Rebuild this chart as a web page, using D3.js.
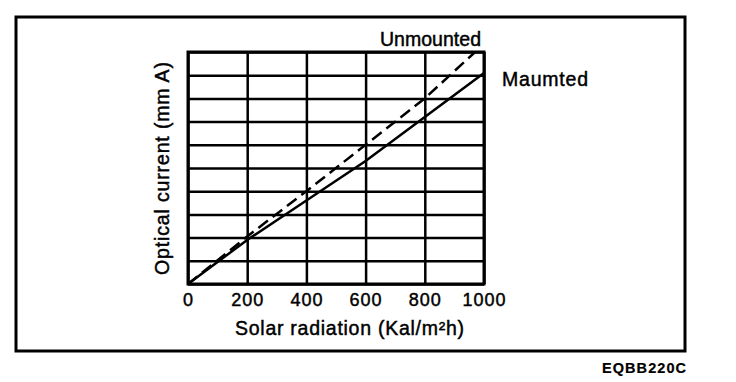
<!DOCTYPE html>
<html>
<head>
<meta charset="utf-8">
<script src="https://cdn.jsdelivr.net/npm/d3@7"></script>
<style>
  html, body { margin: 0; padding: 0; background: #fff; }
  svg { display: block; }
  text { font-family: "Liberation Sans", Arial, Helvetica, sans-serif; fill: #000; stroke: #000; stroke-width: 0.45px; }
</style>
</head>
<body>
<svg id="chart" width="736" height="382"></svg>
<script>
// ---- data ----
const xTicks = [0, 200, 400, 600, 800, 1000];
const xTickLabels = ["0", "200", "400", "600", "800", "1000"];
const yGrid = [0, 1, 2, 3, 4, 5, 6, 7, 8, 9, 10];
const unmountedX = [0, 200, 400, 600, 800, 970];
const unmountedY = [0, 2.05, 4.0, 6.0, 8.0, 10.0];
const maumtedX = [0, 200, 400, 600, 800, 1000];
const maumtedY = [0, 1.9, 3.6, 5.3, 7.2, 9.1];
const seriesNames = ["Unmounted", "Maumted"];
const xTitle = "Solar radiation (Kal/m²h)";
const yTitle = "Optical current (mm A)";
const figCode = "EQBB220C";

// ---- layout ----
const svg = d3.select("#chart");
const plot = { left: 188, top: 52, right: 484, bottom: 284 };
const W = plot.right - plot.left, H = plot.bottom - plot.top;

const x = d3.scaleLinear().domain([0, 1000]).range([plot.left, plot.right]);
const y = d3.scaleLinear().domain([0, 10]).range([plot.bottom, plot.top]);

// outer frame
svg.append("rect")
  .attr("x", 16).attr("y", 17).attr("width", 669).attr("height", 334)
  .attr("fill", "none").attr("stroke", "#000").attr("stroke-width", 3);

// vertical grid lines
const gx = svg.append("g")
  .attr("transform", `translate(0,${plot.bottom})`)
  .call(d3.axisBottom(x).tickValues(xTicks).tickSize(-H).tickFormat(""));
gx.select(".domain").remove();
gx.selectAll("line").attr("stroke", "#000").attr("stroke-width", 2.5);

// horizontal grid lines
const gy = svg.append("g")
  .attr("transform", `translate(${plot.left},0)`)
  .call(d3.axisLeft(y).tickValues(yGrid).tickSize(-W).tickFormat(""));
gy.select(".domain").remove();
gy.selectAll("line").attr("stroke", "#000").attr("stroke-width", 2.5);

// plot border
svg.append("rect")
  .attr("x", plot.left).attr("y", plot.top).attr("width", W).attr("height", H)
  .attr("fill", "none").attr("stroke", "#000").attr("stroke-width", 3);

// x tick labels
const ax = svg.append("g")
  .attr("transform", `translate(0,${plot.bottom})`)
  .call(d3.axisBottom(x).tickValues(xTicks).tickSize(0).tickPadding(9)
    .tickFormat((d, i) => xTickLabels[i]));
ax.select(".domain").remove();
ax.selectAll("text")
  .attr("font-size", 18)
  .style("letter-spacing", "1px")
  .attr("font-family", "Liberation Sans, Arial, sans-serif")
  .attr("fill", "#000");

// lines
const line = d3.line().x(d => x(d[0])).y(d => y(d[1]));
const unmounted = unmountedX.map((v, i) => [v, unmountedY[i]]);
const maumted = maumtedX.map((v, i) => [v, maumtedY[i]]);

svg.append("path").datum(maumted)
  .attr("d", line).attr("fill", "none")
  .attr("stroke", "#000").attr("stroke-width", 2.5);

svg.append("path").datum(unmounted)
  .attr("d", line).attr("fill", "none")
  .attr("stroke", "#000").attr("stroke-width", 2.5)
  .attr("stroke-dasharray", "12,6");

// series labels
svg.append("text").attr("x", 380).attr("y", 46)
  .attr("font-size", 19.5).attr("textLength", 101).attr("lengthAdjust", "spacing")
  .text(seriesNames[0]);
svg.append("text").attr("x", 502).attr("y", 86)
  .attr("font-size", 19.5).attr("textLength", 86).attr("lengthAdjust", "spacing")
  .text(seriesNames[1]);

// axis titles
svg.append("text").attr("x", 235).attr("y", 335)
  .attr("font-size", 19.5).attr("textLength", 229).attr("lengthAdjust", "spacing")
  .text(xTitle);
svg.append("text")
  .attr("transform", "translate(169,168.5) rotate(-90)")
  .attr("text-anchor", "middle")
  .attr("font-size", 19.5).attr("textLength", 213).attr("lengthAdjust", "spacing")
  .text(yTitle);

// figure code
svg.append("text").attr("x", 602).attr("y", 373)
  .attr("font-size", 14.5).attr("font-weight", "bold")
  .style("stroke-width", "0.2px")
  .attr("textLength", 84).attr("lengthAdjust", "spacing")
  .text(figCode);
</script>
</body>
</html>
